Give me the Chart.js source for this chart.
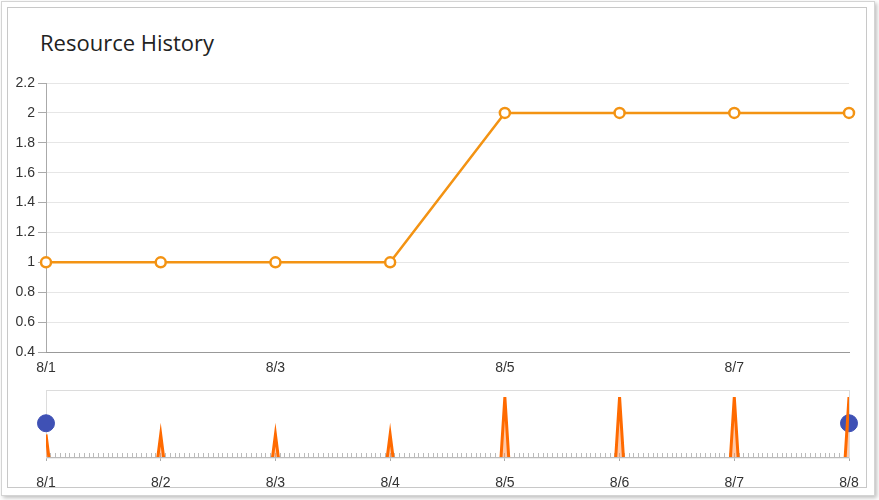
<!DOCTYPE html>
<html>
<head>
<meta charset="utf-8">
<script src="https://cdn.jsdelivr.net/npm/chart.js@4/dist/chart.umd.min.js"></script>
<style>
  html, body { margin: 0; padding: 0; background: #fff; }
  #outer { position: absolute; left: 1px; top: 1px; width: 872px; height: 493px; border: 1px solid #d4d4d4; box-shadow: 2px 2px 4px rgba(0,0,0,0.25); }
  #inner { position: absolute; left: 7px; top: 7px; width: 858px; height: 479px; border: 1px solid #c8c8c8; }
  #title { position: absolute; left: 40px; top: 27px; font: 22px "Open Sans", sans-serif; color: #222; }
  #main { position: absolute; left: 0; top: 0; }
  #nav { position: absolute; left: 0; top: 380px; }
</style>
</head>
<body>
<div id="outer"></div>
<div id="inner"></div>
<div id="title">Resource History</div>
<canvas id="main" width="879" height="380"></canvas>
<canvas id="nav" width="879" height="120"></canvas>
<script>
"use strict";

// Main series
const days = ["8/1", "8/2", "8/3", "8/4", "8/5", "8/6", "8/7", "8/8"];
const resources = [1, 1, 1, 1, 2, 2, 2, 2];

// Navigator series (hours since 8/1 00:00)
const navHours = [0, 1, 23, 24, 25, 47, 48, 49, 71, 72, 73, 95, 96, 97, 119, 120, 121, 143, 144, 145, 167, 168];
const navValues = [1, 0, 0, 1, 0, 0, 1, 0, 0, 1, 0, 0, 2, 0, 0, 2, 0, 0, 2, 0, 0, 2];
const handleHours = [0, 168];
const handleLevel = 1.3;

const tickFont = { family: "'Liberation Sans', Arial, sans-serif", size: 14 };

// Chart main:
const mainConfig = {
  type: "line",
  data: {
    labels: days,
    datasets: [
      {
        data: resources,
        borderColor: "#f39313",
        backgroundColor: "#fff",
        borderWidth: 2.5,
        pointRadius: 5,
        pointBorderWidth: 2.5,
        pointBorderColor: "#f39313",
        pointBackgroundColor: "#fff",
        tension: 0,
      },
    ],
  },
  options: {
    animation: false,
    responsive: false,
    layout: { padding: { left: 0, right: 30, top: 83, bottom: 0 } },
    plugins: { legend: { display: false }, tooltip: { enabled: false } },
    scales: {
      y: {
        min: 0.4,
        max: 2.2,
        ticks: {
          stepSize: 0.2,
          color: "#333",
          font: tickFont,
          padding: 3,
          callback: (value) => String(Number(value.toFixed(1))),
        },
        grid: { color: "#e6e6e6", tickLength: 8, tickColor: "#aaa" },
        border: { color: "#aaa" },
        afterFit: (scale) => { scale.width = 46; },
      },
      x: {
        grid: { display: false },
        border: { color: "#999" },
        ticks: {
          autoSkip: false,
          maxRotation: 0,
          color: "#333",
          font: tickFont,
          padding: 0,
          // every other day only
          callback: function (value, index) {
            return index % 2 === 0 ? days[index] : "";
          },
        },
        afterFit: (scale) => { scale.height = 28; },
      },
    },
  },
};

const mainChart = new Chart(document.getElementById("main"), mainConfig);

// box around the navigator area
const navBox = {
  id: "navBox",
  beforeDatasetsDraw(chart) {
    const a = chart.chartArea;
    const ctx = chart.ctx;
    ctx.save();
    ctx.strokeStyle = "#dcdcdc";
    ctx.lineWidth = 1;
    ctx.strokeRect(Math.round(a.left) + 0.5, Math.round(a.top) + 0.5, a.right - a.left, a.bottom - a.top);
    ctx.restore();
  },
};

const navConfig = {
  type: "line",
  data: {
    datasets: [
      {
        data: navHours.map((h, i) => ({ x: h, y: navValues[i] })),
        borderColor: "#ff6a00",
        backgroundColor: "rgba(255, 120, 40, 0.4)",
        borderWidth: 3,
        pointRadius: 0,
        fill: "start",
        tension: 0,
      },
      {
        type: "scatter",
        data: handleHours.map((h) => ({ x: h, y: handleLevel })),
        backgroundColor: "#3f51b5",
        borderColor: "#3f51b5",
        pointRadius: 8.5,
        clip: false,
      },
    ],
  },
  options: {
    animation: false,
    responsive: false,
    layout: { padding: { left: 46, right: 30, top: 8, bottom: 0 } },
    plugins: { legend: { display: false }, tooltip: { enabled: false } },
    scales: {
      y: { display: false, min: 0.4, max: 2.2 },
      x: {
        type: "linear",
        min: 0,
        max: 168,
        ticks: { display: false, stepSize: 1, maxTicksLimit: 200 },
        grid: { drawOnChartArea: false, tickLength: -4, tickColor: "#bbb" },
        border: { color: "#999" },
        afterFit: (scale) => { scale.height = 0; },
      },
      x2: {
        type: "linear",
        position: "bottom",
        min: 0,
        max: 168,
        ticks: {
          stepSize: 24,
          autoSkip: false,
          maxRotation: 0,
          color: "#333",
          font: tickFont,
          padding: 14,
          callback: (value) => days[Math.round(value / 24)],
        },
        grid: { drawOnChartArea: false, tickLength: 4, tickColor: "#aaa" },
        border: { display: false },
        afterFit: (scale) => { scale.height = 43; },
      },
    },
  },
  plugins: [navBox],
};

const navChart = new Chart(document.getElementById("nav"), navConfig);
</script>
</body>
</html>
